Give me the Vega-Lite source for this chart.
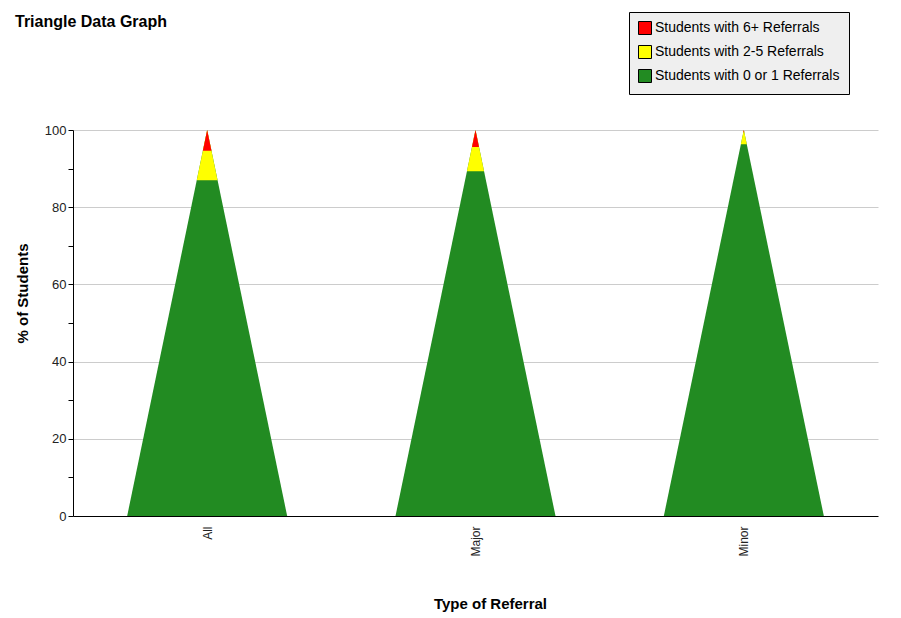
{
  "$schema": "https://vega.github.io/schema/vega-lite/v6.json",
  "autosize": {"type": "none"},
  "width": 805,
  "height": 386,
  "padding": {"left": 73, "top": 130, "right": 23, "bottom": 102},
  "background": "white",
  "title": {
    "text": "Triangle Data Graph",
    "anchor": "start",
    "frame": "group",
    "offset": -18,
    "dx": -58,
    "font": "Liberation Sans",
    "fontSize": 16,
    "fontWeight": "bold",
    "color": "#000000"
  },
  "data": {
    "values": [
      {"type": "All", "band": "Students with 0 or 1 Referrals", "value": 87.0},
      {"type": "All", "band": "Students with 2-5 Referrals", "value": 7.6},
      {"type": "All", "band": "Students with 6+ Referrals", "value": 5.4},
      {"type": "Major", "band": "Students with 0 or 1 Referrals", "value": 89.3},
      {"type": "Major", "band": "Students with 2-5 Referrals", "value": 6.3},
      {"type": "Major", "band": "Students with 6+ Referrals", "value": 4.4},
      {"type": "Minor", "band": "Students with 0 or 1 Referrals", "value": 96.3},
      {"type": "Minor", "band": "Students with 2-5 Referrals", "value": 3.1},
      {"type": "Minor", "band": "Students with 6+ Referrals", "value": 0.6}
    ]
  },
  "transform": [
    {"stack": "value", "groupby": ["type"], "sort": [{"field": "band", "order": "descending"}], "as": ["d0", "d1"]}
  ],
  "mark": {
    "type": "point",
    "filled": true,
    "opacity": 1,
    "strokeWidth": 0,
    "shape": "M0,0L0.4145,2L-0.4145,2Z"
  },
  "encoding": {
    "x": {
      "field": "type",
      "type": "nominal",
      "scale": {"type": "point", "padding": 0.5},
      "axis": {
        "title": "Type of Referral",
        "ticks": false,
        "labelAngle": 270,
        "labelFont": "Liberation Sans",
        "labelFontSize": 12,
        "labelColor": "#222222",
        "labelPadding": 10,
        "domainColor": "#000000",
        "titleFont": "Liberation Sans",
        "titleFontSize": 15,
        "titleFontWeight": "bold",
        "titleColor": "#000000",
        "titleX": 417,
        "titleY": 92,
        "titleBaseline": "alphabetic"
      }
    },
    "y": {
      "datum": 100,
      "type": "quantitative",
      "scale": {"domain": [0, 100], "nice": false},
      "axis": {
        "title": "% of Students",
        "values": [0, 10, 20, 30, 40, 50, 60, 70, 80, 90, 100],
        "labelExpr": "datum.value % 20 === 0 ? datum.label : ''",
        "labelOverlap": false,
        "labelFont": "Liberation Sans",
        "labelFontSize": 13,
        "labelColor": "#222222",
        "labelPadding": 2,
        "tickSize": 5,
        "tickColor": "#000000",
        "domainColor": "#000000",
        "grid": true,
        "gridColor": "#cccccc",
        "gridOpacity": {"condition": {"test": "datum.value % 20 === 0 && datum.value > 0", "value": 1}, "value": 0},
        "titleFont": "Liberation Sans",
        "titleFontSize": 15,
        "titleFontWeight": "bold",
        "titleColor": "#000000",
        "titleX": -51,
        "titleY": 163,
        "titleBaseline": "middle"
      }
    },
    "size": {
      "field": "d1",
      "type": "quantitative",
      "scale": {"type": "pow", "exponent": 2, "domain": [0, 100], "range": [0, 148996]},
      "legend": null
    },
    "color": {
      "field": "band",
      "type": "nominal",
      "scale": {
        "domain": ["Students with 6+ Referrals", "Students with 2-5 Referrals", "Students with 0 or 1 Referrals"],
        "range": ["#ff0000", "#ffff00", "#228b22"]
      },
      "legend": {
        "title": null,
        "orient": "none",
        "legendX": 556,
        "legendY": -118,
        "padding": 9,
        "fillColor": "#efefef",
        "strokeColor": "#000000",
        "symbolType": "square",
        "symbolSize": 169,
        "symbolStrokeColor": "#000000",
        "symbolStrokeWidth": 1,
        "symbolOpacity": 1,
        "labelFont": "Liberation Sans",
        "labelFontSize": 14,
        "labelColor": "#000000",
        "labelOffset": 3,
        "labelLimit": 300,
        "rowPadding": 6
      }
    },
    "order": {"field": "d1", "type": "quantitative", "sort": "descending"}
  },
  "config": {
    "view": {"stroke": null}
  }
}
